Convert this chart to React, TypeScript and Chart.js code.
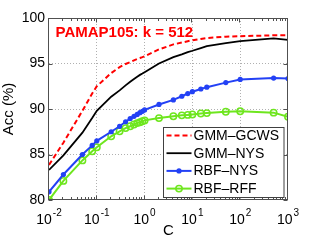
import React, { useEffect, useRef } from 'react';
import { Chart, registerables } from 'chart.js';

Chart.register(...registerables);

// ---- data ----
const cValues = [0.01, 0.02, 0.05, 0.08, 0.1, 0.2, 0.3, 0.4, 0.5, 0.6, 0.7, 0.8, 0.9, 1, 2, 4, 6, 8, 10, 15, 20, 50, 100, 500, 1000];
const gmmGcws = [83.85, 86.3, 89.8, 91.7, 92.5, 93.95, 94.6, 94.95, 95.15, 95.35, 95.5, 95.6, 95.7, 95.8, 96.55, 97.1, 97.3, 97.45, 97.55, 97.7, 97.8, 97.95, 98.0, 98.1, 98.1];
const gmmNys = [83.3, 84.9, 87.4, 89.0, 89.8, 91.35, 92.05, 92.6, 93.0, 93.3, 93.55, 93.75, 93.9, 94.05, 95.0, 95.7, 96.0, 96.25, 96.4, 96.7, 96.9, 97.25, 97.45, 97.75, 97.6];
const rbfNys = [80.9, 82.8, 85.0, 86.0, 86.5, 87.5, 88.1, 88.6, 88.95, 89.2, 89.4, 89.6, 89.75, 89.9, 90.5, 91.0, 91.4, 91.7, 91.9, 92.2, 92.4, 92.9, 93.25, 93.4, 93.35];
const rbfRff = [80.0, 82.1, 84.35, 85.35, 85.8, 87.0, 87.55, 87.9, 88.1, 88.3, 88.45, 88.55, 88.65, 88.75, 89.0, 89.2, 89.3, 89.35, 89.4, 89.5, 89.55, 89.7, 89.75, 89.6, 89.15];
const seriesLabels = ['GMM–GCWS', 'GMM–NYS', 'RBF–NYS', 'RBF–RFF'];
const yTicks = [80, 85, 90, 95, 100];
const xExponents = [-2, -1, 0, 1, 2, 3];
const chartTitle = 'PAMAP105: k = 512';
const xTitle = 'C';
const yTitle = 'Acc (%)';

const FONT = '"Liberation Sans", Arial, Helvetica, sans-serif';

const isDecade = (v: number) => {
  const l = Math.log10(v);
  return Math.abs(l - Math.round(l)) < 1e-9;
};

const decorPlugin = {
  id: 'decor',
  afterDraw(chart: any) {
    const { ctx, chartArea: a, scales } = chart;
    const xs = scales.x;
    const ys = scales.y;
    ctx.save();

    // frame
    ctx.strokeStyle = '#505050';
    ctx.lineWidth = 1;
    ctx.setLineDash([]);
    const L = Math.round(a.left) - 0.5;
    const R = Math.round(a.right) - 0.5;
    const T = Math.round(a.top) + 0.5;
    const B = Math.round(a.bottom) - 0.5;
    ctx.strokeRect(L, T, R - L, B - T);

    // inward ticks
    ctx.beginPath();
    for (const e of xExponents) {
      for (let k = 1; k <= 9; k++) {
        const v = k * Math.pow(10, e);
        if (v < xs.min - 1e-12 || v > xs.max + 1e-9) continue;
        const px = Math.round(xs.getPixelForValue(v)) - 0.5;
        const len = k === 1 ? 4 : 2.5;
        ctx.moveTo(px, B);
        ctx.lineTo(px, B - len);
        ctx.moveTo(px, T);
        ctx.lineTo(px, T + len);
      }
    }
    for (const t of yTicks) {
      const py = Math.round(ys.getPixelForValue(t)) + 0.5;
      ctx.moveTo(L, py);
      ctx.lineTo(L + 4, py);
      ctx.moveTo(R, py);
      ctx.lineTo(R - 4, py);
    }
    ctx.stroke();

    // x tick labels with superscripts
    ctx.fillStyle = '#000';
    ctx.textBaseline = 'alphabetic';
    ctx.textAlign = 'left';
    for (const e of xExponents) {
      const px = xs.getPixelForValue(Math.pow(10, e));
      const base = '10';
      const exp = String(e);
      ctx.font = `14px ${FONT}`;
      const wb = ctx.measureText(base).width;
      ctx.font = `10px ${FONT}`;
      const we = ctx.measureText(exp).width;
      const x0 = px - (wb + we + 1) / 2;
      ctx.font = `14px ${FONT}`;
      ctx.fillText(base, x0, a.bottom + 23.5);
      ctx.font = `10px ${FONT}`;
      ctx.fillText(exp, x0 + wb + 1, a.bottom + 15.5);
    }

    // in-plot title
    ctx.font = `bold 15px ${FONT}`;
    ctx.fillStyle = '#ff0000';
    ctx.textBaseline = 'middle';
    ctx.fillText(chartTitle, a.left + 6.5, a.top + 15);

    // legend
    const lx = 163.5, ly = 127.5, lw = 120.5, lh = 70;
    ctx.fillStyle = '#fff';
    ctx.fillRect(lx, ly, lw, lh);
    ctx.strokeStyle = '#404040';
    ctx.lineWidth = 1;
    ctx.strokeRect(lx, ly, lw, lh);
    chart.data.datasets.forEach((ds: any, i: number) => {
      const cy = ly + 8 + i * 17.7;
      const x1 = lx + 3, x2 = lx + 28;
      ctx.save();
      ctx.strokeStyle = ds.borderColor;
      ctx.lineWidth = ds.borderWidth;
      ctx.setLineDash(ds.borderDash || []);
      ctx.beginPath();
      ctx.moveTo(x1, cy);
      ctx.lineTo(x2, cy);
      ctx.stroke();
      ctx.setLineDash([]);
      if (ds.pointRadius > 0) {
        ctx.beginPath();
        ctx.arc((x1 + x2) / 2, cy, ds.pointRadius, 0, Math.PI * 2);
        ctx.fillStyle = ds.pointBackgroundColor;
        ctx.fill();
        if (ds.pointBorderWidth > 0) {
          ctx.strokeStyle = ds.pointBorderColor;
          ctx.lineWidth = ds.pointBorderWidth;
          ctx.stroke();
        }
      }
      ctx.restore();
      ctx.fillStyle = '#000';
      ctx.font = `14px ${FONT}`;
      ctx.textBaseline = 'middle';
      ctx.textAlign = 'left';
      ctx.fillText(ds.label, x2 + 2, cy + 0.5);
    });

    ctx.restore();
  },
};

export default function App() {
  const ref = useRef<HTMLCanvasElement | null>(null);
  useEffect(() => {
    if (!ref.current) return;
    const mk = (arr: number[]) => cValues.map((c, i) => ({ x: c, y: arr[i] }));
    const blue = 'rgb(35,65,245)';
    const green = 'rgb(110,230,30)';
    const chart = new Chart(ref.current, {
      type: 'line',
      data: {
        datasets: [
          { label: seriesLabels[0], data: mk(gmmGcws), borderColor: '#ff0000', borderWidth: 2, borderDash: [5, 3], pointRadius: 0, pointBorderWidth: 0, pointBackgroundColor: '#ff0000', tension: 0 },
          { label: seriesLabels[1], data: mk(gmmNys), borderColor: '#000000', borderWidth: 1.8, pointRadius: 0, pointBorderWidth: 0, pointBackgroundColor: '#000', tension: 0 },
          { label: seriesLabels[2], data: mk(rbfNys), borderColor: blue, borderWidth: 2, pointRadius: 2.6, pointBorderWidth: 0, pointBackgroundColor: blue, pointBorderColor: blue, tension: 0 },
          { label: seriesLabels[3], data: mk(rbfRff), borderColor: green, borderWidth: 2, pointRadius: 3.2, pointBorderWidth: 1.5, pointBackgroundColor: 'rgba(255,255,255,0)', pointBorderColor: green, tension: 0 },
        ] as any,
      },
      options: {
        animation: false,
        responsive: false,
        devicePixelRatio: 1,
        layout: { padding: { top: 18, right: 31, left: 0, bottom: 0 } },
        plugins: { legend: { display: false }, tooltip: { enabled: false }, title: { display: false } },
        scales: {
          x: {
            type: 'logarithmic',
            min: 0.01,
            max: 1000,
            ticks: { display: false },
            grid: {
              drawTicks: false,
              color: (c: any) => {
                const v = c.tick && c.tick.value;
                if (!v) return 'transparent';
                return isDecade(v) && v > 0.011 && v < 999 ? '#b0b0b0' : 'transparent';
              },
            },
            border: { display: false, dash: [1, 2] },
            title: { display: true, text: xTitle, color: '#000', font: { family: FONT, size: 15 }, padding: { top: 0, bottom: 0 } },
            afterFit: (s: any) => { s.height = 40; },
          },
          y: {
            min: 80,
            max: 100,
            ticks: { stepSize: 5, color: '#000', font: { family: FONT, size: 14 }, padding: 4 },
            grid: {
              drawTicks: false,
              color: (c: any) => {
                const v = c.tick && c.tick.value;
                return v > 80 && v < 100 ? '#b0b0b0' : 'transparent';
              },
            },
            border: { display: false, dash: [1, 2] },
            title: { display: true, text: yTitle, color: '#000', font: { family: FONT, size: 15 }, padding: { top: 0, bottom: 0 } },
            afterFit: (s: any) => { s.width = 49; },
          },
        },
      } as any,
      plugins: [decorPlugin],
    });
    return () => chart.destroy();
  }, []);
  return (
    <div style={{ position: 'absolute', left: 0, top: 0, width: 319, height: 240, background: '#fff' }}>
      <canvas ref={ref} width={319} height={240} style={{ display: 'block' }} />
    </div>
  );
}
